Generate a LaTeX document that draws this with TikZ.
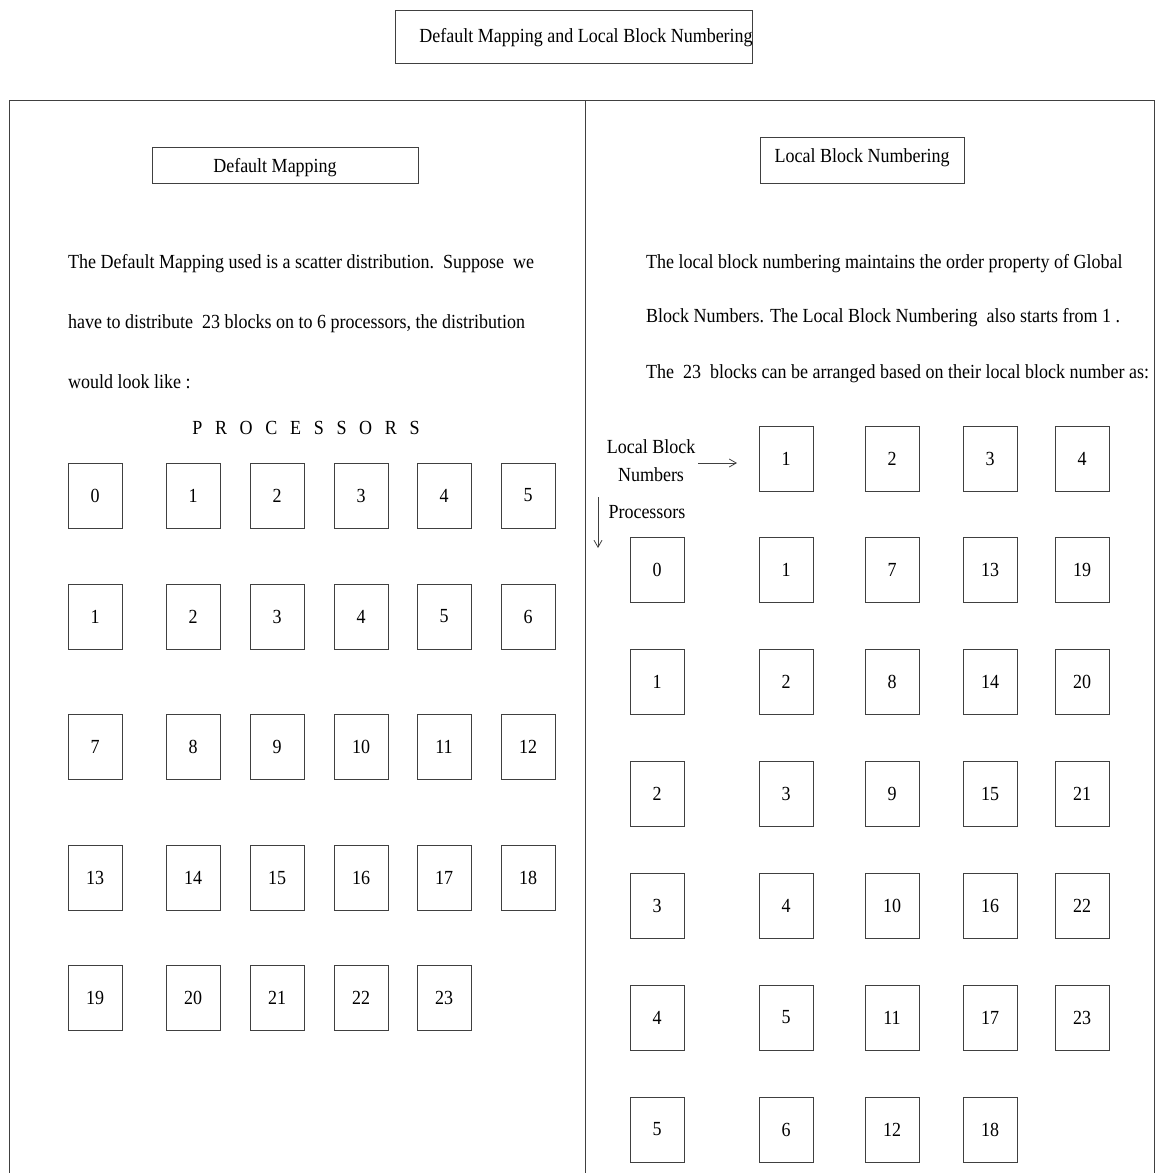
\documentclass[tikz,border=0pt]{standalone}
\usepackage{fontspec}
\setmainfont{Liberation Serif}[FakeStretch=0.9]
\usetikzlibrary{arrows.meta}

\tikzset{
  frame/.style={draw=black!75,line width=1pt},
  txt/.style={inner sep=0pt,font=\fontsize{20}{28}\selectfont},
  blk/.style={frame,txt,minimum width=54pt,minimum height=65pt},
  para/.style={txt,anchor=base west},
  arr/.style={draw=black!75,line width=0.8pt,-{Straight Barb[length=7pt,width=8pt]}}
}

\begin{document}
\begin{tikzpicture}[x=1pt,y=-1pt]
  \useasboundingbox (0,0) rectangle (1157,1173);
  % title
  \node[frame,minimum width=357pt,minimum height=53pt] (titlebox) at (573.5,36.5) {};
  \node[txt] (title) at (586,38) {Default Mapping and Local Block Numbering};
  % outer frame
  \draw[frame] (9,1180) -- (9,100) -- (1154,100) -- (1154,1180);
  \draw[frame] (585,100) -- (585,1180);

  % left half
  \node[frame,minimum width=266pt,minimum height=36pt] (dmbox) at (285,165) {};
  \node[txt] (dm) at (275,168) {Default Mapping};
  \node[para] (dm1) at (68,268) {The Default Mapping used is a scatter distribution.\ \ Suppose\ \ we};
  \node[para] (dm2) at (68,328) {have to distribute\ \ 23 blocks on to 6 processors, the distribution};
  \node[para] (dm3) at (68,388) {would look like :};
  \node[txt] (procs) at (306,428) {P\hspace{12.7pt}R\hspace{12.7pt}O\hspace{12.7pt}C\hspace{12.7pt}E\hspace{12.7pt}S\hspace{12.7pt}S\hspace{12.7pt}O\hspace{12.7pt}R\hspace{12.7pt}S};
  \foreach \c/\x in {0/95,1/193,2/277,3/361,4/444,5/528}
    \node[blk] (p\c) at (\x,495.5) {\c};
  \foreach \r/\y in {1/616.5,2/746.5,3/877.5,4/997.5}
    \foreach \c/\x in {0/95,1/193,2/277,3/361,4/444,5/528} {
      \pgfmathtruncatemacro{\n}{6*(\r-1)+\c+1}
      \ifnum\n<24
        \node[blk] (d\n) at (\x,\y) {\n};
      \fi
    }

  % right half
  \node[frame,minimum width=204pt,minimum height=46pt] (lbbox) at (862,160) {};
  \node[txt] (lb) at (862,158) {Local Block Numbering};
  \node[para] (lb1) at (646,268) {The local block numbering maintains the order property of Global};
  \node[para] (lb2) at (646,322) {Block Numbers. The Local Block Numbering\ \ also starts from 1 .};
  \node[para] (lb3) at (646,378) {The\ \ 23\ \ blocks can be arranged based on their local block number as:};
  \node[txt,align=center] (lbn) at (651,461) {Local Block\\Numbers};
  \node[txt] (prc) at (647,512) {Processors};
  \coordinate (lbntail) at (698,463);
  \coordinate (lbnhead) at (737,463);
  \coordinate (prctail) at (598,497);
  \coordinate (prchead) at (598,548);
  \draw[arr] (lbntail) -- (lbnhead);
  \draw[arr] (prctail) -- (prchead);
  \foreach \k/\x in {1/786,2/892,3/990,4/1082}
    \node[blk] (h\k) at (\x,458.5) {\k};
  \foreach \p/\y in {0/569.5,1/681.5,2/793.5,3/905.5,4/1017.5,5/1129.5} {
    \node[blk] (q\p) at (657,\y) {\p};
    \foreach \k/\x in {1/786,2/892,3/990,4/1082} {
      \pgfmathtruncatemacro{\n}{\p+1+6*(\k-1)}
      \ifnum\n<24
        \node[blk] (l\p\k) at (\x,\y) {\n};
      \fi
    }
  }
\end{tikzpicture}
\end{document}
